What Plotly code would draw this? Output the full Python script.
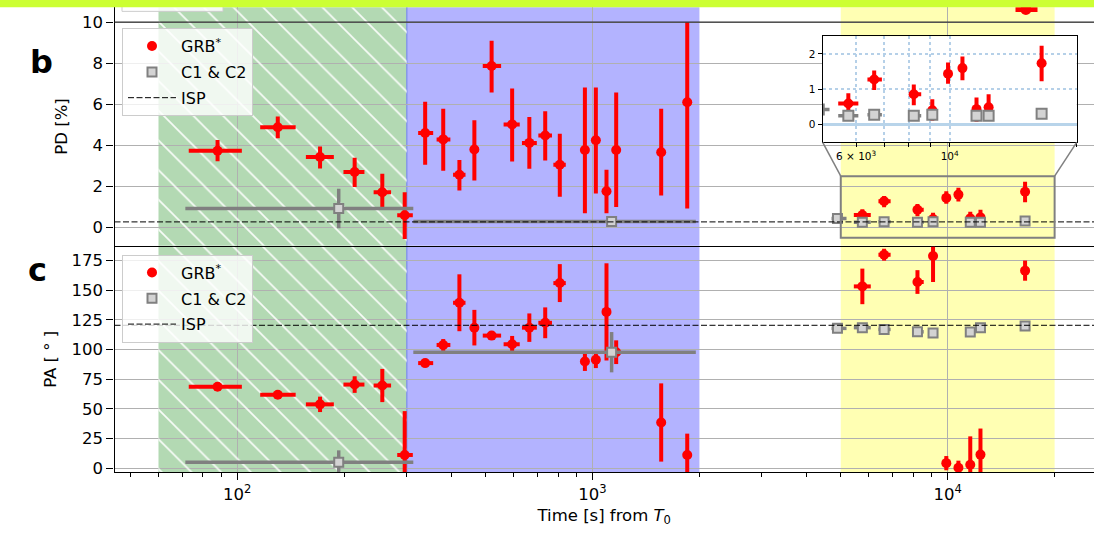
import math
import plotly.graph_objects as go

W, H = 1094, 533

# ---------------- data ----------------
# GRB* (red) time bins [s] and polarisation
grb_t   = [88, 130, 171, 214, 256, 296, 338, 380, 422, 465, 520, 594, 664, 736, 809,
           952, 1022, 1095, 1166, 1561, 1848,
           5751, 6622, 8220, 9094, 9910, 10720, 11576, 12367, 16515]
grb_tlo = [73, 116, 156, 199, 242, 282, 323, 364, 405, 452, 491, 562, 633, 704, 776,
           935, 1005, 1078, 1148, 1530, 1815,
           5442, 6383, 8000, 8900, 9750, 10550, 11400, 12200, 16250]
grb_thi = [103, 146, 187, 228, 271, 312, 356, 398, 439, 478, 553, 624, 697, 769, 841,
           970, 1040, 1112, 1185, 1592, 1880,
           6074, 6907, 8560, 9290, 10070, 10900, 11750, 12550, 16780]
grb_pd = [3.74, 4.88, 3.43, 2.70, 1.71, 0.59, 4.60, 4.29, 2.57, 3.80, 7.87, 5.02, 4.12, 4.48, 3.05,
          3.77, 4.25, 1.76, 3.77, 3.66, 6.10,
          0.60, 1.28, 0.86, 0.41, 1.44, 1.60, 0.44, 0.49, 1.74]
grb_pd_err_hi = [0.52, 0.53, 0.51, 0.70, 0.91, 1.12, 1.53, 1.49, 0.72, 1.42, 1.23, 1.75, 1.26, 1.18, 1.51,
                 3.05, 2.57, 1.05, 2.81, 2.12, 3.90,
                 0.29, 0.25, 0.28, 0.31, 0.32, 0.33, 0.33, 0.37, 0.49]
grb_pd_err_lo = [0.52, 0.54, 0.56, 0.73, 0.75, 1.15, 1.55, 1.53, 0.77, 1.51, 1.29, 1.81, 1.26, 1.22, 1.56,
                 3.08, 2.60, 1.07, 2.78, 2.10, 5.18,
                 0.25, 0.30, 0.31, 0.30, 0.28, 0.34, 0.36, 0.37, 0.51]
grb_pa = [68.6, 61.9, 53.8, 70.5, 69.7, 11.1, 88.6, 103.9, 139.5, 118.5, 111.8, 104.5, 118.5, 122.6, 156.1,
          90.0, 91.4, 131.8, 97.8, 38.5, 11.1,
          153.3, 180.0, 157.0, 179.0, 4.2, 0.3, 2.8, 11.4, 166.6]
grb_pa_err = [2, 2, 6.5, 7, 14, 37, 3, 5, 24, 15, 3, 7, 12, 13, 16,
              8, 7, 41, 10, 33, 18,
              15, 5, 10, 22, 6, 6, 24, 22, 8.5]

# C1 & C2 comparison stars (grey)
c12_t   = [193, 1132, 4894, 5751, 6622, 8220, 9094, 11576, 12367, 16515]
c12_tlo = [71.4, 313, 4710, 5442, 6383, 8000, 8900, 11400, 12200, 16250]
c12_thi = [313, 1954, 5190, 6074, 6907, 8560, 9290, 11750, 12550, 16780]
c12_pd = [0.92, 0.29, 0.43, 0.25, 0.28, 0.25, 0.28, 0.25, 0.25, 0.31]
c12_pd_err = [0.96, 0.05, 0.05, 0.04, 0.04, 0.04, 0.04, 0.04, 0.04, 0.04]
c12_pa = [5.0, 97.8, 117.9, 118.5, 117.0, 115.0, 114.0, 114.8, 118.5, 120.0]
c12_pa_err = [10, 17, 2, 2, 2, 2, 2, 2, 2, 2]

# point of the panel above that spills into the top edge
top_t, top_tlo, top_thi, top_pd = [16600], [15520], [17900], [10.62]

# interstellar polarisation
isp_pd = 0.27
isp_pa = 120.5

# observing phases (time spans, s)
green_span = [60, 300]
blue_span = [300, 2000]
yellow_span = [5000, 20000]
zoom_pd = [-0.5, 2.5]

# ---------------- layout helpers ----------------
def xp(px):
    return px / W

def yp(px):
    return 1 - px / H

XL, XR = 1.6543, 4.4119
XDOM = [xp(114.5), 1.0]
B_DOM, B_RNG = [yp(248.5), yp(7.3)], [-0.89, 10.73]
C_DOM, C_RNG = [yp(477.3), yp(249.5)], [-3.2, 186.8]
I_XDOM, I_YDOM = [xp(822.7), xp(1076.7)], [yp(144), yp(36.7)]
I_XRNG, I_YRNG = [math.log10(5000), math.log10(20000)], [-0.5, 2.5]

FONT = "DejaVu Sans"
RED = "#ff0000"
GREY_E = "#808080"
GREY_F = "#d3d3d3"
GRID = "#b0b0b0"


def ex(t, lo, hi, color, th=4):
    return dict(type="data", symmetric=False,
                array=[h - v for v, h in zip(t, hi)],
                arrayminus=[v - l for v, l in zip(t, lo)],
                thickness=th, width=0, color=color)


def ey(up, lo, color, th=4):
    return dict(type="data", symmetric=False, array=up, arrayminus=lo,
                thickness=th, width=0, color=color)


fig = go.Figure()

# hatch over the green phase in both panels
for xa, ya, rng in (("x", "y", B_RNG), ("x2", "y2", C_RNG)):
    g0, g1 = green_span
    fig.add_trace(go.Scatter(
        x=[g0, g1, g1, g0, g0], y=[rng[0], rng[0], rng[1], rng[1], rng[0]],
        xaxis=xa, yaxis=ya, mode="lines", line=dict(width=0),
        fill="toself", fillcolor="rgba(0,0,0,0)",
        fillpattern=dict(shape="\\", fgcolor="white", bgcolor="rgba(0,0,0,0)",
                         size=21, solidity=0.08, fgopacity=0.9),
        hoverinfo="skip", showlegend=False))

GRB_NAME = "GRB<sup>*</sup>"


def add_panel(xa, ya, yv, yup, ylo, cy, cye, isp, legend, xrng_vals):
    fig.add_trace(go.Scatter(
        x=grb_t, y=yv, xaxis=xa, yaxis=ya, mode="markers", name=GRB_NAME,
        marker=dict(color=RED, size=10, line=dict(width=0)),
        error_x=ex(grb_t, grb_tlo, grb_thi, RED),
        error_y=ey(yup, ylo, RED),
        legend=legend, legendgroup="grb" + legend))
    fig.add_trace(go.Scatter(
        x=c12_t, y=cy, xaxis=xa, yaxis=ya, mode="markers", name="C1 &amp; C2",
        marker=dict(color=GREY_F, size=9, symbol="square", line=dict(color=GREY_E, width=2)),
        error_x=ex(c12_t, c12_tlo, c12_thi, GREY_E, 3.5),
        error_y=ey(cye, cye, GREY_E, 3.5),
        legend=legend, legendgroup="c12" + legend))
    fig.add_trace(go.Scatter(
        x=xrng_vals, y=[isp, isp], xaxis=xa, yaxis=ya, mode="lines", name="ISP",
        line=dict(color="black", width=1, dash="6px,2.5px"),
        legend=legend, legendgroup="isp" + legend, hoverinfo="skip"))


add_panel("x", "y", grb_pd, grb_pd_err_hi, grb_pd_err_lo, c12_pd, c12_pd_err,
          isp_pd, "legend", [10 ** XL, 10 ** XR])
add_panel("x2", "y2", grb_pa, grb_pa_err, grb_pa_err, c12_pa, c12_pa_err,
          isp_pa, "legend2", [10 ** XL, 10 ** XR])

# spill-over point from the panel above
fig.add_trace(go.Scatter(
    x=top_t, y=top_pd, mode="markers", marker=dict(color=RED, size=11),
    error_x=ex(top_t, top_tlo, top_thi, RED, 5), showlegend=False, hoverinfo="skip"))

# inset
fig.add_trace(go.Scatter(
    x=grb_t, y=grb_pd, xaxis="x3", yaxis="y3", mode="markers",
    marker=dict(color=RED, size=10),
    error_x=ex(grb_t, grb_tlo, grb_thi, RED),
    error_y=ey(grb_pd_err_hi, grb_pd_err_lo, RED), showlegend=False))
fig.add_trace(go.Scatter(
    x=c12_t, y=c12_pd, xaxis="x3", yaxis="y3", mode="markers",
    marker=dict(color=GREY_F, size=10, symbol="square", line=dict(color=GREY_E, width=2)),
    error_x=ex(c12_t, c12_tlo, c12_thi, GREY_E, 3.5),
    error_y=ey(c12_pd_err, c12_pd_err, GREY_E, 3.5), showlegend=False))

# ---------------- shapes ----------------
shapes = []
for xr, yr in (("x", "y domain"), ("x2", "y2 domain")):
    for span, col in ((green_span, "#b3d9b3"), (blue_span, "#b3b3ff"), (yellow_span, "#ffffb3")):
        shapes.append(dict(type="rect", xref=xr, yref=yr, x0=span[0], x1=span[1], y0=0, y1=1,
                           fillcolor=col, line=dict(width=0), layer="below"))
    shapes.append(dict(type="line", xref=xr, yref=yr, x0=blue_span[0], x1=blue_span[0], y0=0, y1=1,
                       line=dict(color="rgba(120,140,230,0.8)", width=1.5), layer="below"))

# dark line at PD = 10 (bottom spine of the panel above)
shapes.append(dict(type="line", xref="x domain", yref="y", x0=0, x1=1, y0=10, y1=10,
                   line=dict(color="#333333", width=1.3)))

# zoom box and connectors
shapes.append(dict(type="rect", xref="x", yref="y", x0=yellow_span[0], x1=yellow_span[1],
                   y0=zoom_pd[0], y1=zoom_pd[1], line=dict(color=GREY_E, width=2)))


def data_to_paper_x(t):
    return XDOM[0] + (math.log10(t) - XL) / (XR - XL) * (XDOM[1] - XDOM[0])


def data_to_paper_y(v):
    return B_DOM[0] + (v - B_RNG[0]) / (B_RNG[1] - B_RNG[0]) * (B_DOM[1] - B_DOM[0])


for t, ix in ((yellow_span[0], I_XDOM[0]), (yellow_span[1], I_XDOM[1])):
    shapes.append(dict(type="line", xref="paper", yref="paper",
                       x0=data_to_paper_x(t), y0=data_to_paper_y(zoom_pd[1]),
                       x1=ix, y1=I_YDOM[0], line=dict(color=GREY_E, width=1.5)))

# fragment of the legend of the panel above, and the top band
shapes.append(dict(type="rect", xref="paper", yref="paper", x0=xp(122), x1=xp(223),
                   y0=yp(11.5), y1=yp(4), fillcolor="rgba(255,255,255,0.85)",
                   line=dict(color="#cccccc", width=1)))
shapes.append(dict(type="rect", xref="paper", yref="paper", x0=0, x1=1, y0=yp(7.3), y1=1,
                   fillcolor="#ccff33", line=dict(width=0)))

# ---------------- axes ----------------
tick_font = dict(family=FONT, size=16.5, color="black")
minor_vals = [m * 10 ** e for e in (1, 2, 3, 4) for m in range(2, 10)]

common_x = dict(type="log", range=[XL, XR], domain=XDOM, showgrid=True, gridcolor=GRID,
                gridwidth=1, zeroline=False, showline=True, linecolor="black", linewidth=1.2,
                tickvals=[100, 1000, 10000])
fig.update_layout(
    xaxis=dict(common_x, anchor="y", showticklabels=False, ticks=""),
    xaxis2=dict(common_x, anchor="y2", ticks="outside", ticklen=7, tickcolor="black",
                ticktext=["10<sup>2</sup>", "10<sup>3</sup>", "10<sup>4</sup>"],
                tickfont=tick_font,
                minor=dict(tickmode="array", tickvals=minor_vals, ticks="outside", ticklen=4,
                           tickcolor="black", showgrid=False),
                title=dict(text="Time [s] from <i>T</i><sub>0</sub>",
                           font=dict(family=FONT, size=16.5, color="black"), standoff=6)),
    yaxis=dict(domain=B_DOM, range=B_RNG, anchor="x", tickvals=[0, 2, 4, 6, 8, 10],
               ticks="outside", ticklen=7, tickcolor="black", tickfont=tick_font,
               showgrid=True, gridcolor=GRID, zeroline=False, showline=True,
               linecolor="black", linewidth=1.2,
               title=dict(text="PD [%]", font=dict(family=FONT, size=16.5, color="black"),
                          standoff=10)),
    yaxis2=dict(domain=C_DOM, range=C_RNG, anchor="x2", tickvals=list(range(0, 176, 25)),
                ticks="outside", ticklen=7, tickcolor="black", tickfont=tick_font,
                showgrid=True, gridcolor=GRID, zeroline=False, showline=True,
                linecolor="black", linewidth=1.2,
                title=dict(text="PA [ ° ]", font=dict(family=FONT, size=16.5, color="black"),
                           standoff=10)),
    xaxis3=dict(type="log", domain=I_XDOM, range=I_XRNG, anchor="y3",
                tickvals=[6000, 7000, 8000, 9000, 10000, 20000],
                ticktext=["6 × 10<sup>3</sup>", "", "", "", "10<sup>4</sup>", "2 × 10<sup>4</sup>"],
                tickfont=dict(family=FONT, size=10.5, color="black"),
                ticks="outside", ticklen=4, tickcolor="black",
                showgrid=True, gridcolor="#b5d0e8", griddash="dot", gridwidth=2,
                zeroline=False, showline=True, mirror=True, linecolor="black", linewidth=1.2),
    yaxis3=dict(domain=I_YDOM, range=I_YRNG, anchor="x3", tickvals=[0, 1, 2],
                tickfont=dict(family=FONT, size=10.5, color="black"),
                ticks="outside", ticklen=4, tickcolor="black",
                showgrid=True, gridcolor="#b5d0e8", griddash="dot", gridwidth=2,
                zeroline=True, zerolinecolor="#b8d4ea", zerolinewidth=2.5,
                showline=True, mirror=True, linecolor="black", linewidth=1.2),
)

legend_style = dict(xanchor="left", yanchor="top", bgcolor="rgba(255,255,255,0.8)",
                    bordercolor="#cccccc", borderwidth=1, traceorder="grouped",
                    tracegroupgap=2, itemwidth=48,
                    font=dict(family=FONT, size=16, color="black"))
fig.update_layout(
    legend=dict(legend_style, x=xp(122), y=yp(28.5)),
    legend2=dict(legend_style, x=xp(122), y=yp(257.5)),
    shapes=shapes,
    annotations=[
        dict(text="<b>b</b>", x=xp(28), y=yp(41.5), xref="paper", yref="paper",
             showarrow=False, font=dict(family=FONT, size=32, color="black")),
        dict(text="<b>c</b>", x=xp(26), y=yp(273), xref="paper", yref="paper",
             showarrow=False, font=dict(family=FONT, size=32, color="black")),
    ],
    width=W, height=H, margin=dict(l=0, r=0, t=0, b=0),
    paper_bgcolor="white", plot_bgcolor="white",
    font=dict(family=FONT, color="black"),
    hovermode=False,
)

fig.write_html("out.html")
